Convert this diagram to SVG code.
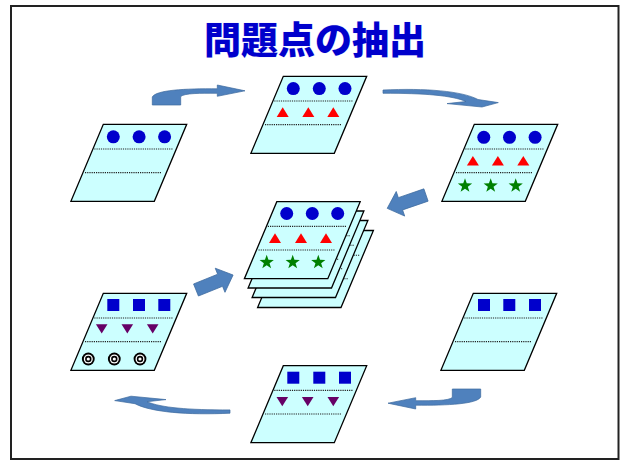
<svg xmlns="http://www.w3.org/2000/svg" xmlns:xlink="http://www.w3.org/1999/xlink" width="624" height="461" viewBox="0 0 624 461">
<style>
.sheet{fill:#CCFFFF;stroke:#000;stroke-width:1.3;stroke-linejoin:miter}
.dot{stroke:#222;stroke-width:1.1;stroke-dasharray:1.2 1;fill:none}
.circ{fill:#0000CC}
.tri{fill:#FF0000}
.star{fill:#008000}
.sq{fill:#0000CC}
.dtri{fill:#660066}
.arr{fill:#4F81BD;stroke:#3D6A9E;stroke-width:0.7}
.title{font-family:"Noto Sans CJK JP","Noto Sans CJK SC",sans-serif;font-weight:900;font-size:37px;fill:#0000CC;stroke:#E8E8FF;stroke-width:0.6;paint-order:stroke}
</style>
<defs>
<path id="shape" d="M0,0 L83.4,0 L51,77 L-32.4,77 Z"/>
<g id="lines">
<line x1="-9" y1="24.7" x2="69.4" y2="24.7"/>
<line x1="-18.3" y1="48.3" x2="58.4" y2="48.3"/>
</g>
<path id="startri" d="M0,-7.5 L1.76,-2.43 L7.13,-2.32 L2.85,0.93 L4.41,6.07 L0,3 L-4.41,6.07 L-2.85,0.93 L-7.13,-2.32 L-1.76,-2.43 Z"/>
<path id="up" d="M0,-4.8 L6,4.8 L-6,4.8 Z"/>
<path id="down" d="M-5.8,-4.5 L5.8,-4.5 L0,4.8 Z"/>
<g id="bull">
<circle r="6.4" fill="#000"/>
<circle r="4.5" fill="#fff"/>
<circle r="3.2" fill="#000"/>
<circle r="1.6" fill="#fff"/>
</g>
</defs>
<rect x="11" y="6" width="607.5" height="453" fill="#fff" stroke="#222" stroke-width="2"/>
<text class="title" x="315" y="54" text-anchor="middle">問題点の抽出</text>

<g id="connectors">
<path id="arrowA" class="arr" d="M152.3,105 L152.3,97 C156,90 185,88.5 217.3,88.8 L217.3,85 L245,90.8 L217.3,96.3 L217.3,93.3 C200,93.3 185,93 180.7,96.5 L180.7,105 Z"/>
<path id="arrowB" class="arr" d="M383,90 C425,88 462,91 478,99.5 L498.3,102.6 L482,107 L447,103.6 L466,101.5 C452,95.5 425,93.2 383,93.3 Z"/>
<path id="arrowC" class="arr" transform="translate(426,195) rotate(161)" d="M0,-6.5 L27,-6.5 L27,-13 L41,0 L27,13 L27,6.5 L0,6.5 Z"/>
<path id="arrowD" class="arr" transform="translate(196,290) rotate(-22)" d="M0,-6.5 L26,-6.5 L26,-13 L40,0 L26,13 L26,6.5 L0,6.5 Z"/>
<path id="arrowE" class="arr" transform="matrix(-1,0,0,-1,633,494)" d="M152.3,105 L152.3,97 C156,90 185,88.5 217.3,88.8 L217.3,85 L245,90.8 L217.3,96.3 L217.3,93.3 C200,93.3 185,93 180.7,96.5 L180.7,105 Z"/>
<path id="arrowF" class="arr" transform="matrix(-1,0,0,-1,613,503.2)" d="M383,90 C425,88 462,91 478,99.5 L498.3,102.6 L482,107 L447,103.6 L466,101.5 C452,95.5 425,93.2 383,93.3 Z"/>
</g>

<g id="sheet1" transform="translate(103.3,124.3)">
<use xlink:href="#shape" class="sheet"/>
<use xlink:href="#lines" class="dot"/>
<circle class="circ" cx="10" cy="12.5" r="6.5"/><circle class="circ" cx="35.8" cy="12.5" r="6.5"/><circle class="circ" cx="61.3" cy="12.5" r="6.5"/>
</g>

<g id="sheet2" transform="translate(283.3,76.3)">
<use xlink:href="#shape" class="sheet"/>
<use xlink:href="#lines" class="dot"/>
<circle class="circ" cx="10" cy="12.3" r="6.5"/><circle class="circ" cx="36" cy="12.3" r="6.5"/><circle class="circ" cx="61.7" cy="12.3" r="6.5"/>
<use xlink:href="#up" class="tri" x="-0.6" y="35.8"/><use xlink:href="#up" class="tri" x="25" y="35.8"/><use xlink:href="#up" class="tri" x="50" y="35.8"/>
</g>

<g id="sheet3" transform="translate(474.3,124.3)">
<use xlink:href="#shape" class="sheet"/>
<use xlink:href="#lines" class="dot"/>
<circle class="circ" cx="9.5" cy="13" r="6.5"/><circle class="circ" cx="35.2" cy="13" r="6.5"/><circle class="circ" cx="60.8" cy="13" r="6.5"/>
<use xlink:href="#up" class="tri" x="-1.4" y="36.5"/><use xlink:href="#up" class="tri" x="23.6" y="36.5"/><use xlink:href="#up" class="tri" x="49" y="36.5"/>
<use xlink:href="#startri" class="star" x="-9.3" y="61.5"/><use xlink:href="#startri" class="star" x="16.4" y="61.5"/><use xlink:href="#startri" class="star" x="41.4" y="61.5"/>
</g>

<g id="stack">
<g transform="translate(290,230.5)">
<use xlink:href="#shape" class="sheet"/>
<use xlink:href="#lines" class="dot"/>
</g>
<g transform="translate(284.5,220.5)">
<use xlink:href="#shape" class="sheet"/>
<use xlink:href="#lines" class="dot"/>
</g>
<g transform="translate(280.5,211)">
<use xlink:href="#shape" class="sheet"/>
<use xlink:href="#lines" class="dot"/>
</g>
<g transform="translate(276.8,201.7)">
<use xlink:href="#shape" class="sheet"/>
<use xlink:href="#lines" class="dot"/>
<circle class="circ" cx="9.9" cy="11.8" r="6.5"/><circle class="circ" cx="35.5" cy="11.8" r="6.5"/><circle class="circ" cx="60.9" cy="11.8" r="6.5"/>
<use xlink:href="#up" class="tri" x="-1.8" y="36.4"/><use xlink:href="#up" class="tri" x="24.2" y="36.4"/><use xlink:href="#up" class="tri" x="49.2" y="36.4"/>
<use xlink:href="#startri" class="star" x="-10.1" y="60.6"/><use xlink:href="#startri" class="star" x="15.9" y="60.6"/><use xlink:href="#startri" class="star" x="41.5" y="60.6"/>
</g>
</g>

<g id="sheet5" transform="translate(103.3,293.3)">
<use xlink:href="#shape" class="sheet"/>
<use xlink:href="#lines" class="dot"/>
<rect class="sq" x="4" y="5.7" width="12" height="12"/><rect class="sq" x="29.7" y="5.7" width="12" height="12"/><rect class="sq" x="55" y="5.7" width="12" height="12"/>
<use xlink:href="#down" class="dtri" x="-1.6" y="35.5"/><use xlink:href="#down" class="dtri" x="24" y="35.5"/><use xlink:href="#down" class="dtri" x="49.4" y="35.5"/>
<use xlink:href="#bull" x="-15" y="65.7"/><use xlink:href="#bull" x="11" y="65.7"/><use xlink:href="#bull" x="36.7" y="65.7"/>
</g>

<g id="sheet6" transform="translate(473.3,293.3)">
<use xlink:href="#shape" class="sheet"/>
<use xlink:href="#lines" class="dot"/>
<rect class="sq" x="4.7" y="5.7" width="12" height="12"/><rect class="sq" x="30" y="5.7" width="12" height="12"/><rect class="sq" x="55.7" y="5.7" width="12" height="12"/>
</g>

<g id="sheet7" transform="translate(283.3,365.7)">
<use xlink:href="#shape" class="sheet"/>
<use xlink:href="#lines" class="dot"/>
<rect class="sq" x="4" y="6" width="12" height="12"/><rect class="sq" x="30" y="6" width="12" height="12"/><rect class="sq" x="55.7" y="6" width="12" height="12"/>
<use xlink:href="#down" class="dtri" x="-1" y="35.8"/><use xlink:href="#down" class="dtri" x="24.4" y="35.8"/><use xlink:href="#down" class="dtri" x="50" y="35.8"/>
</g>
</svg>
